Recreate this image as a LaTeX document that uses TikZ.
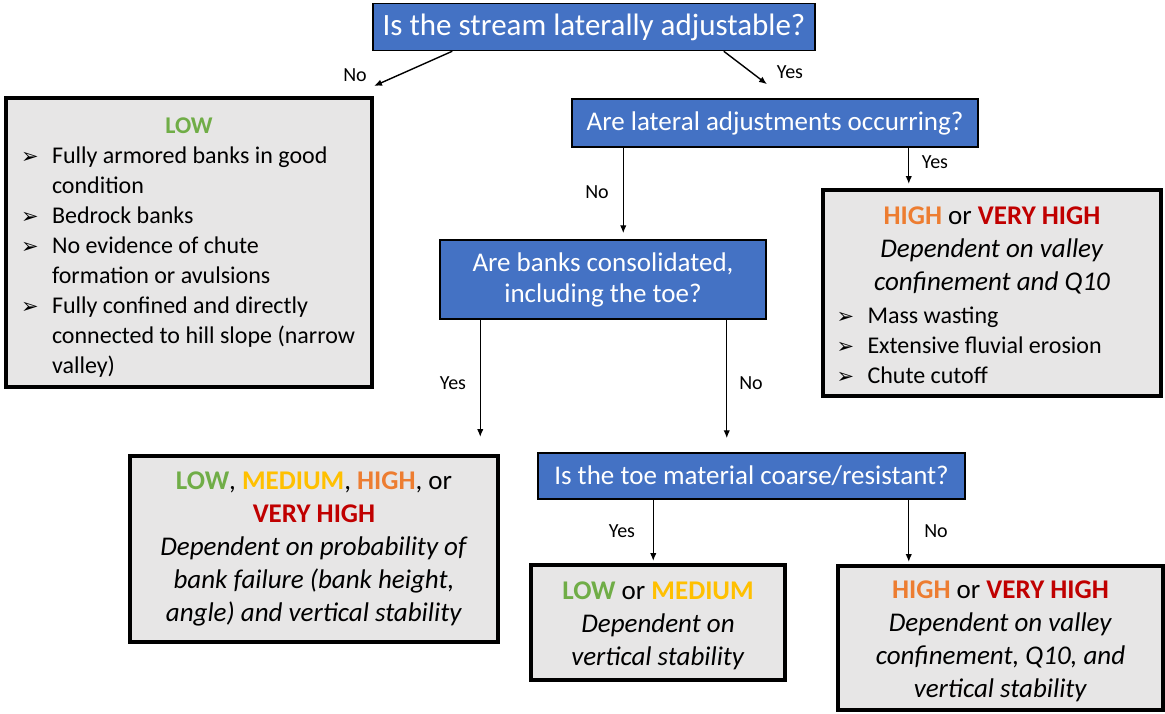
\documentclass[tikz,border=0pt]{standalone}
\usepackage{fontspec}
\usepackage{array}
\setmainfont{Carlito}
\newfontfamily\symfont{DejaVu Sans}
\usetikzlibrary{arrows.meta}

\definecolor{qblue}{HTML}{4472C4}
\definecolor{boxgray}{HTML}{E7E6E6}
\definecolor{lowc}{HTML}{70AD47}
\definecolor{medc}{HTML}{FFC000}
\definecolor{highc}{HTML}{ED7D31}
\definecolor{vhighc}{HTML}{C00000}

\newcommand{\blt}{{\symfont\fontsize{21}{21}\selectfont ➢}}
\newcommand{\lowword}{\textcolor{lowc}{\textbf{LOW}}}
\newcommand{\medword}{\textcolor{medc}{\textbf{MEDIUM}}}
\newcommand{\highword}{\textcolor{highc}{\textbf{HIGH}}}
\newcommand{\vhighword}{\textcolor{vhighc}{\textbf{VERY HIGH}}}
\newcommand{\topgap}[1]{\rule{0pt}{#1}}

\begin{document}
\begin{tikzpicture}[x=1pt, y=-1pt,
  question/.style={draw=black, line width=1.5pt, fill=qblue, text=white, align=center,
    inner sep=0pt, font=\fontsize{27}{31}\selectfont},
  rating/.style={draw=black, line width=4pt, fill=boxgray, align=center,
    inner sep=0pt, font=\fontsize{27}{33}\selectfont},
  arr/.style={-{Latex[length=8pt,width=6.5pt]}, line width=1.4pt},
  lbl/.style={font=\fontsize{20}{20}\selectfont}]

\useasboundingbox (0,0) rectangle (1165,713);

% Questions
\node[question, minimum width=442pt, minimum height=47pt, font=\fontsize{31}{31}\selectfont] (q1) at (594,27) {Is the stream laterally adjustable?};
\node[question, minimum width=406pt, minimum height=48pt] (q2) at (775,123) {Are lateral adjustments occurring?};
\node[question, minimum width=326pt, minimum height=79pt] (q3) at (603,279.5) {Are banks consolidated,\\ including the toe?};
\node[question, minimum width=427pt, minimum height=46pt] (q4) at (751.5,476) {Is the toe material coarse/resistant?};

% Outcomes
\node[rating, minimum width=366pt, minimum height=289pt, font=\fontsize{24}{30}\selectfont] (lowbox) at (189,242.5) {\topgap{30pt}\lowword\\
  \begin{tabular}[t]{@{}p{31pt}@{}p{305pt}@{}}
  \blt & Fully armored banks in good\\
       & condition\\
  \blt & Bedrock banks\\
  \blt & No evidence of chute\\
       & formation or avulsions\\
  \blt & Fully confined and directly\\
       & connected to hill slope (narrow\\
       & valley)
  \end{tabular}};

\node[rating, minimum width=338pt, minimum height=206pt] (highA) at (992,293) {\topgap{30pt}\highword{} or \vhighword\\
  \textit{Dependent on valley}\\
  \textit{confinement and Q10}\\
  {\fontsize{24}{30}\selectfont
  \begin{tabular}[t]{@{}p{31pt}@{}p{280pt}@{}}
  \blt & Mass wasting\\
  \blt & Extensive fluvial erosion\\
  \blt & Chute cutoff
  \end{tabular}}};

\node[rating, minimum width=368pt, minimum height=186pt] (spread) at (314,549) {\lowword, \medword, \highword, or\\
  \vhighword\\
  \textit{Dependent on probability of}\\
  \textit{bank failure (bank height,}\\
  \textit{angle) and vertical stability}};

\node[rating, minimum width=254pt, minimum height=115pt] (lowmed) at (658,622.5) {\topgap{24pt}\lowword{} or \medword\\
  \textit{Dependent on}\\
  \textit{vertical stability}};

\node[rating, minimum width=325pt, minimum height=144pt] (highB) at (1000.5,638) {\topgap{24pt}\highword{} or \vhighword\\
  \textit{Dependent on valley}\\
  \textit{confinement, Q10, and}\\
  \textit{vertical stability}};

% Branch labels
\node[lbl] (noA) at (355,75) {No};
\node[lbl] (yesA) at (790,72) {Yes};
\node[lbl] (noB) at (597,192) {No};
\node[lbl] (yesB) at (935,162) {Yes};
\node[lbl] (yesC) at (453,383) {Yes};
\node[lbl] (noC) at (751,383) {No};
\node[lbl] (yesD) at (622,531) {Yes};
\node[lbl] (noD) at (936,531) {No};

% Arrow start points
\coordinate (q2no) at ([xshift=52pt]q2.south west);
\coordinate (q2yes) at ([xshift=-70pt]q2.south east);
\coordinate (q3yes) at ([xshift=41pt]q3.south west);
\coordinate (q3no) at ([xshift=-40pt]q3.south east);
\coordinate (q4yes) at ([xshift=116pt]q4.south west);
\coordinate (q4no) at ([xshift=-57pt]q4.south east);

% Arrows
\draw[arr] ([xshift=80pt]q1.south west) -- ([yshift=10pt]lowbox.north east);
\draw[arr] ([xshift=-92pt]q1.south east) -- ([xshift=-8pt,yshift=14pt]q2.north);

\draw[arr, shorten >=6pt] (q2no) -- (q2no |- q3.north);
\draw[arr, shorten >=4pt] (q2yes) -- (q2yes |- highA.north);

\draw[arr, shorten >=17pt] (q3yes) -- (q3yes |- spread.north);
\draw[arr, shorten >=14pt] (q3no) -- (q3no |- q4.north);

\draw[arr, shorten >=2pt] (q4yes) -- (q4yes |- lowmed.north);
\draw[arr, shorten >=2pt] (q4no) -- (q4no |- highB.north);

\end{tikzpicture}
\end{document}
